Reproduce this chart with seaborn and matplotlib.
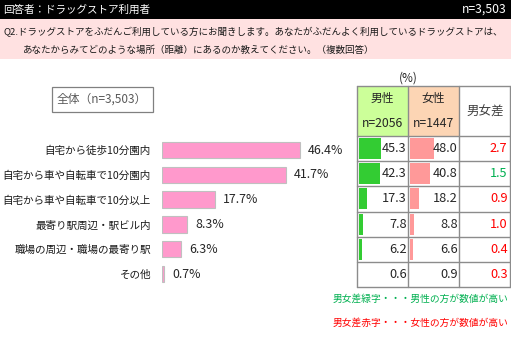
import matplotlib
matplotlib.use("Agg")
import matplotlib.pyplot as plt
from matplotlib.patches import Rectangle
import seaborn as sns
import pandas as pd

# ---- data -------------------------------------------------------------
categories = [
    "自宅から徒歩10分園内",
    "自宅から車や自転車で10分園内",
    "自宅から車や自転車で10分以上",
    "最寄り駅周辺・駅ビル内",
    "職場の周辺・職場の最寄り駅",
    "その他",
]
total = [46.4, 41.7, 17.7, 8.3, 6.3, 0.7]
male = [45.3, 42.3, 17.3, 7.8, 6.2, 0.6]
female = [48.0, 40.8, 18.2, 8.8, 6.6, 0.9]

header_left = "回答者：ドラッグストア利用者"
header_right = "n=3,503"
question_1 = "Q2.ドラッグストアをふだんご利用している方にお聞きします。あなたがふだんよく利用しているドラッグストアは、"
question_2 = "あなたからみてどのような場所（距離）にあるのか教えてください。（複数回答）"
total_label = "全体（n=3,503）"
male_head, male_n = "男性", "n=2056"
female_head, female_n = "女性", "n=1447"
diff_head = "男女差"
note_green = "男女差緑字・・・男性の方が数値が高い"
note_red = "男女差赤字・・・女性の方が数値が高い"

# ---- style --------------------------------------------------------------
sns.set_style("white")
plt.rcParams["font.family"] = ["Noto Sans CJK JP", "DejaVu Sans"]

W, H = 511, 337
fig = plt.figure(figsize=(W / 100, H / 100), dpi=100)

PINK_BAR = "#FF99CC"
GREEN_BAR = "#33CC33"
RED_BAR = "#FF9999"
GRID = "#8C8C8C"
TXT = "#262626"
GREEN_TXT = "#00B050"
RED_TXT = "#FF0000"


def px_axes(left, top, width, height):
    return fig.add_axes([left / W, 1 - (top + height) / H, width / W, height / H])


def ftext(x, y, s, **kw):
    kw.setdefault("color", TXT)
    kw.setdefault("va", "center")
    fig.text(x / W, 1 - y / H, s, **kw)


# background canvas in pixel units
bg = px_axes(0, 0, W, H)
bg.set_xlim(0, W)
bg.set_ylim(H, 0)
bg.axis("off")

bg.add_patch(Rectangle((0, 0), W, 18.5, color="black", lw=0))
bg.add_patch(Rectangle((0, 18.5), W, 40.5, color="#FFE1E1", lw=0))

ftext(3, 9.5, header_left, color="white", fontsize=7.6)
ftext(507, 9.5, header_right, color="white", fontsize=8.8, ha="right")
ftext(3, 32, question_1, fontsize=6.85, color="#1a1a1a")
ftext(23, 50, question_2, fontsize=6.85, color="#1a1a1a")

# total sample box
bg.add_patch(Rectangle((51.5, 86.5), 101.5, 25.5, fill=False, ec="#808080", lw=0.9))
ftext(102, 99.5, total_label, fontsize=8.5, color="#595959", ha="center")

# ---- main horizontal bars ----------------------------------------------
PX_PER_PCT = 2.97
row_h = 24.8
ax = px_axes(162, 150 - row_h / 2, 190, row_h * 6)
df = pd.DataFrame({"cat": categories, "val": total})
sns.barplot(data=df, x="val", y="cat", orient="h", color=PINK_BAR, saturation=1,
            width=0.66, edgecolor="#C0C0C0", linewidth=0.8, ax=ax)
ax.set_xlim(0, 190 / PX_PER_PCT)
ax.set_ylim(5.5, -0.5)
ax.set_xlabel("")
ax.set_ylabel("")
ax.set_xticks([])
for s in ax.spines.values():
    s.set_visible(False)
ax.tick_params(axis="y", length=0, pad=7.9, labelsize=7.6, labelcolor="#1a1a1a")
ax.set_facecolor("none")
for i, v in enumerate(total):
    ax.annotate(f"{v:.1f}%", (v, i), xytext=(6, 0), textcoords="offset points",
                va="center", ha="left", fontsize=8.9, color=TXT)

# ---- gender table -------------------------------------------------------
col_x = [357, 408, 459, 510]
head_top, head_bot = 86, 136
row_edges = [136, 161.2, 186.4, 211.6, 236.8, 262, 287]

bg.add_patch(Rectangle((col_x[0], head_top), col_x[1] - col_x[0], head_bot - head_top,
                       color="#CCFF99", lw=0))
bg.add_patch(Rectangle((col_x[1], head_top), col_x[2] - col_x[1], head_bot - head_top,
                       color="#FCD5B4", lw=0))
for x in col_x:
    bg.plot([x, x], [head_top, row_edges[-1]], color=GRID, lw=1.0)
for y in [head_top] + row_edges:
    bg.plot([col_x[0], col_x[-1]], [y, y], color=GRID, lw=1.0)

ftext(408, 78, "(%)", fontsize=8.5, ha="center")
ftext(382.5, 98.5, male_head, fontsize=8.5, ha="center")
ftext(382.5, 123, male_n, fontsize=8.8, ha="center")
ftext(433.5, 98.5, female_head, fontsize=8.5, ha="center")
ftext(433.5, 123, female_n, fontsize=8.8, ha="center")
ftext(485, 112, diff_head, fontsize=9.0, ha="center", color="#404040")

# in-cell bars for each gender
TBL_PX_PER_PCT = 0.49
for left, vals, colr in [(359, male, GREEN_BAR), (410, female, RED_BAR)]:
    tax = px_axes(left, row_edges[0], 100 * TBL_PX_PER_PCT, row_edges[-1] - row_edges[0])
    tdf = pd.DataFrame({"cat": categories, "val": vals})
    sns.barplot(data=tdf, x="val", y="cat", orient="h", color=colr, saturation=1,
                width=0.84, linewidth=0, ax=tax)
    tax.set_xlim(0, 100)
    tax.set_ylim(5.5, -0.5)
    tax.axis("off")

for i in range(len(categories)):
    yc = (row_edges[i] + row_edges[i + 1]) / 2
    ftext(406.5, yc, f"{male[i]:.1f}", fontsize=9.2, ha="right")
    ftext(457.5, yc, f"{female[i]:.1f}", fontsize=9.2, ha="right")
    d = female[i] - male[i]
    ftext(507.5, yc, f"{abs(d):.1f}", fontsize=9.2, ha="right",
          color=GREEN_TXT if d < 0 else RED_TXT)

ftext(508, 299, note_green, fontsize=7.0, ha="right", color=GREEN_TXT)
ftext(508, 323, note_red, fontsize=7.0, ha="right", color=RED_TXT)

fig.savefig("out.png", dpi=100)
